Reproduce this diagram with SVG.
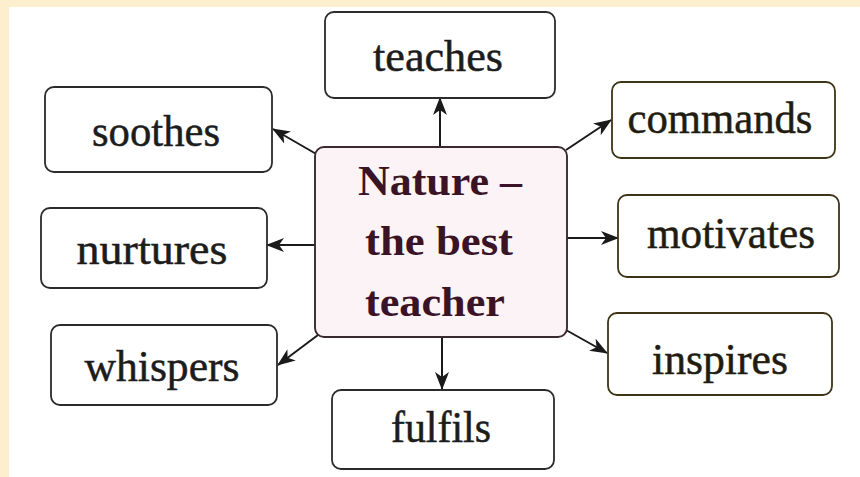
<svg xmlns="http://www.w3.org/2000/svg" width="860" height="477" viewBox="0 0 860 477">
<defs>
<marker id="ah" viewBox="0 0 18 14" refX="17" refY="7" markerWidth="18" markerHeight="14" markerUnits="userSpaceOnUse" orient="auto">
<path d="M0,0 L18,7 L0,14 L5,7 Z" fill="#1a1a1a"/>
</marker>
<style>
.box{fill:#ffffff;stroke:#2b2b2b;stroke-width:1.8}
.boxr{fill:#ffffff;stroke:#3e3516;stroke-width:1.8}
.center{fill:#fbf3f6;stroke:#3a2a30;stroke-width:1.9}
.lbl{font-family:"Liberation Serif","DejaVu Serif",serif;font-size:44px;fill:#1c1c1c;stroke:#1c1c1c;stroke-width:0.5;text-anchor:middle}
.lblr{font-family:"Liberation Serif","DejaVu Serif",serif;font-size:44px;fill:#221c10;stroke:#221c10;stroke-width:0.5;text-anchor:middle}
.ctr{font-family:"Liberation Serif","DejaVu Serif",serif;font-size:42px;font-weight:bold;fill:#3a1426;text-anchor:middle}
.conn{stroke:#1a1a1a;stroke-width:2;fill:none;marker-end:url(#ah)}
</style>
</defs>
<rect x="0" y="0" width="860" height="477" fill="#ffffff"/>
<rect x="0" y="0" width="860" height="7" fill="#fdefcd"/>
<rect x="0" y="0" width="9" height="477" fill="#fdefcd"/>

<g id="connectors">
<line class="conn" x1="440" y1="147" x2="440" y2="98"/>
<line class="conn" x1="318" y1="155" x2="273" y2="129"/>
<line class="conn" x1="315" y1="245" x2="267" y2="245"/>
<line class="conn" x1="318" y1="335" x2="278" y2="365"/>
<line class="conn" x1="442" y1="337" x2="442" y2="389"/>
<line class="conn" x1="566" y1="150" x2="611" y2="120"/>
<line class="conn" x1="567" y1="238" x2="618" y2="238"/>
<line class="conn" x1="566" y1="330" x2="607" y2="353"/>
</g>

<g id="center">
<rect class="center" x="315" y="147" width="252" height="190" rx="9"/>
<text class="ctr" x="440" y="195" textLength="164" lengthAdjust="spacingAndGlyphs">Nature –</text>
<text class="ctr" x="439" y="255" textLength="148" lengthAdjust="spacingAndGlyphs">the best</text>
<text class="ctr" x="435" y="316" textLength="140" lengthAdjust="spacingAndGlyphs">teacher</text>
</g>

<g id="teaches">
<rect class="box" x="325" y="12" width="230" height="86" rx="9"/>
<text class="lbl" x="438" y="71" textLength="130" lengthAdjust="spacingAndGlyphs">teaches</text>
</g>

<g id="soothes">
<rect class="box" x="45" y="87" width="227" height="85" rx="9"/>
<text class="lbl" x="156" y="146" textLength="128" lengthAdjust="spacingAndGlyphs">soothes</text>
</g>

<g id="nurtures">
<rect class="box" x="41" y="208" width="226" height="80" rx="9"/>
<text class="lbl" x="152" y="264" textLength="151" lengthAdjust="spacingAndGlyphs">nurtures</text>
</g>

<g id="whispers">
<rect class="box" x="51" y="325" width="226" height="80" rx="9"/>
<text class="lbl" x="162" y="381" textLength="155" lengthAdjust="spacingAndGlyphs">whispers</text>
</g>

<g id="fulfils">
<rect class="box" x="332" y="390" width="222" height="79" rx="9"/>
<text class="lbl" x="441" y="442" textLength="100" lengthAdjust="spacingAndGlyphs">fulfils</text>
</g>

<g id="commands">
<rect class="boxr" x="612" y="82" width="223" height="76" rx="9"/>
<text class="lblr" x="720" y="133" textLength="185" lengthAdjust="spacingAndGlyphs">commands</text>
</g>

<g id="motivates">
<rect class="boxr" x="618" y="195" width="221" height="82" rx="9"/>
<text class="lblr" x="731" y="248" textLength="168" lengthAdjust="spacingAndGlyphs">motivates</text>
</g>

<g id="inspires">
<rect class="boxr" x="608" y="313" width="224" height="82" rx="9"/>
<text class="lblr" x="720" y="374" textLength="136" lengthAdjust="spacingAndGlyphs">inspires</text>
</g>
</svg>
